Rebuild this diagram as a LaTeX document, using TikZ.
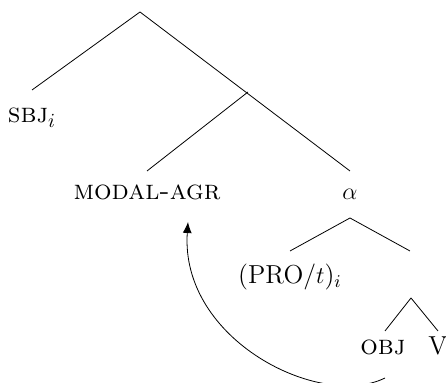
\documentclass[tikz,border=0pt]{standalone}
\usetikzlibrary{arrows.meta}
\begin{document}
\begin{tikzpicture}[x=0.5pt,y=-0.5pt,
  lbl/.style={anchor=base,inner sep=0pt,font=\fontsize{13}{15}\selectfont},
  sclbl/.style={anchor=base,inner sep=0pt,font=\fontsize{13.8}{16}\selectfont},
  branch/.style={line width=0.4pt},
  mv/.style={line width=0.4pt,-{Latex[length=5.5pt,width=4.5pt]}}]
\useasboundingbox (0,0) rectangle (446,383);
% apexes and branch ends
\coordinate (root) at (140,12);
\coordinate (sbjtop) at (32,90);
\coordinate (j1) at (248,92);
\coordinate (modtop) at (147,171);
\coordinate (alphatop) at (350,171);
\coordinate (alphabot) at (350,218);
\coordinate (protop) at (290,251);
\coordinate (vptop) at (410,251);
\coordinate (vpapex) at (411,298);
\coordinate (objtop) at (385,331);
\coordinate (vtop) at (438,331);
% labels
\node[sclbl] (sbj) at (32,123) {\textsc{sbj}$_i$};
\node[sclbl] (modal) at (147,200) {\textsc{modal-agr}};
\node[lbl] (alpha) at (350,200) {$\alpha$};
\node[lbl] (pro) at (290,284) {(PRO/$t$)$_i$};
\node[sclbl] (obj) at (383,355) {\textsc{obj}};
\node[lbl] (v) at (438,355) {V};
% branches
\draw[branch] (root) -- (sbjtop);
\draw[branch] (root) -- (alphatop);
\draw[branch] (j1) -- (modtop);
\draw[branch] (alphabot) -- (protop);
\draw[branch] (alphabot) -- (vptop);
\draw[branch] (vpapex) -- (objtop);
\draw[branch] (vpapex) -- (vtop);
% movement arrow
\coordinate (mvstart) at (385,378);
\coordinate (mvend) at (188,222);
\draw[mv] (mvstart) .. controls (320,410) and (180,340) .. (mvend);
\end{tikzpicture}
\end{document}
